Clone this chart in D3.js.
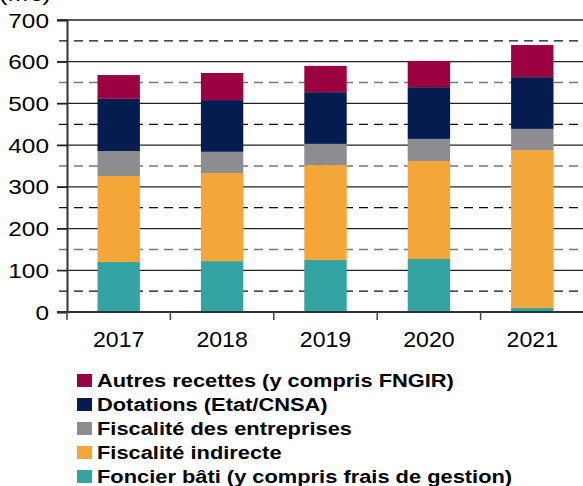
<!DOCTYPE html>
<html>
<head>
<meta charset="utf-8">
<script src="https://cdn.jsdelivr.net/npm/d3@7"></script>
<style>
  body { margin: 0; background: #fff; }
  svg { display: block; font-family: "Liberation Sans", Arial, sans-serif; }
</style>
</head>
<body>
<svg width="583" height="486"></svg>
<script>
// data (M€)
const years = ["2017", "2018", "2019", "2020", "2021"]
const foncier = [120, 122, 125, 127, 10]
const indirecte = [206, 211, 227, 235, 378]
const entreprises = [60, 51, 51, 53, 51]
const dotations = [125, 124, 124, 124, 124]
const autres = [57, 65, 63, 63, 77]
const yTicks = [0, 100, 200, 300, 400, 500, 600, 700]
const halfTicks = [50, 150, 250, 350, 450, 550, 650]

const series = [
  {name: "Foncier bâti (y compris frais de gestion)", values: foncier, color: "#33a3a3"},
  {name: "Fiscalité indirecte", values: indirecte, color: "#f4a738"},
  {name: "Fiscalité des entreprises", values: entreprises, color: "#8c8c91"},
  {name: "Dotations (Etat/CNSA)", values: dotations, color: "#041c4f"},
  {name: "Autres recettes (y compris FNGIR)", values: autres, color: "#9b0041"}
]

const svg = d3.select("svg")
const plotLeft = 67, plotRight = 584, plotTop = 20, plotBottom = 312

const x = d3.scaleBand().domain(years).range([plotLeft, plotRight])
const y = d3.scaleLinear().domain([0, 700]).range([plotBottom, plotTop])

// unit label, clipped at the top like the original (text is a bit stretched there)
svg.append("text")
  .attr("transform", "translate(-1,1) scale(1.2,1)")
  .attr("font-size", 21)
  .text("(M€)")

// dashed half gridlines
svg.append("g")
  .selectAll("line")
  .data(halfTicks)
  .enter().append("line")
  .attr("x1", 59).attr("x2", plotRight)
  .attr("y1", d => y(d)).attr("y2", d => y(d))
  .attr("stroke", (d, i) => i % 2 == 0 ? "#111" : "#777")
  .attr("stroke-width", (d, i) => i % 2 == 0 ? 1.2 : 1.6)
  .attr("stroke-dasharray", "9,6")

// solid gridlines
svg.append("g")
  .selectAll("line")
  .data(yTicks.filter(d => d > 0))
  .enter().append("line")
  .attr("x1", 57).attr("x2", plotRight)
  .attr("y1", d => y(d)).attr("y2", d => y(d))
  .attr("stroke", "#222")
  .attr("stroke-width", 1.3)

// stacked bars
const rows = years.map((yr, i) => {
  const r = {year: yr}
  series.forEach(s => r[s.name] = s.values[i])
  return r
})
const stack = d3.stack().keys(series.map(s => s.name))(rows)
const bw = x.bandwidth() * 0.41

svg.append("g")
  .selectAll("g")
  .data(stack)
  .enter().append("g")
  .attr("fill", (d, i) => series[i].color)
  .selectAll("rect")
  .data(d => d)
  .enter().append("rect")
  .attr("x", d => x(d.data.year) + (x.bandwidth() - bw) / 2)
  .attr("width", bw)
  .attr("y", d => y(d[1]))
  .attr("height", d => y(d[0]) - y(d[1]))

// y axis (labels drawn by hand so they can be stretched like the original)
const yAxis = svg.append("g")
  .attr("transform", "translate(" + plotLeft + ",0)")
  .call(d3.axisLeft(y).tickValues(yTicks).tickSize(10).tickFormat(""))
yAxis.select(".domain").attr("stroke", "#333").attr("stroke-width", 2)
yAxis.selectAll(".tick line").attr("stroke", "#222").attr("stroke-width", 1.3)

svg.append("g")
  .selectAll("text")
  .data(yTicks)
  .enter().append("text")
  .attr("transform", d => "translate(49," + (y(d) + 7.5) + ") scale(1.22,1)")
  .attr("text-anchor", "end")
  .attr("font-size", 20)
  .text(d => d)

// x axis
svg.append("line")
  .attr("x1", plotLeft - 10).attr("x2", plotRight)
  .attr("y1", plotBottom).attr("y2", plotBottom)
  .attr("stroke", "#333").attr("stroke-width", 2)

svg.append("g")
  .selectAll("line")
  .data(years.map(d => x(d)).concat([plotRight]))
  .enter().append("line")
  .attr("x1", d => d).attr("x2", d => d)
  .attr("y1", plotBottom).attr("y2", plotBottom + 8)
  .attr("stroke", "#444").attr("stroke-width", 1.5)

svg.append("g")
  .selectAll("text")
  .data(years)
  .enter().append("text")
  .attr("transform", d => "translate(" + (x(d) + x.bandwidth() / 2) + ",347) scale(1.05,1)")
  .attr("text-anchor", "middle")
  .attr("font-size", 22)
  .text(d => d)

// legend (top to bottom = reverse of stack)
const legend = svg.append("g")
  .selectAll("g")
  .data(series.slice().reverse())
  .enter().append("g")
  .attr("transform", (d, i) => "translate(77," + (380 + i * 24) + ")")

legend.append("rect")
  .attr("x", 0).attr("y", -6)
  .attr("width", 15).attr("height", 13)
  .attr("fill", d => d.color)

legend.append("text")
  .attr("transform", "translate(20,7) scale(1.15,1)")
  .attr("font-size", 19)
  .attr("font-weight", "bold")
  .text(d => d.name)
</script>
</body>
</html>
